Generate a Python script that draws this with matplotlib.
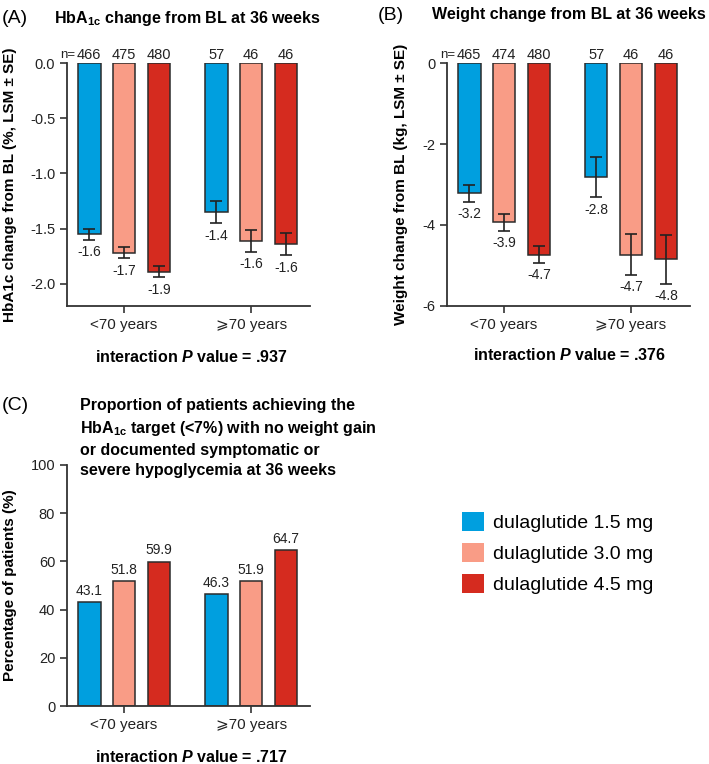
import matplotlib
matplotlib.use("Agg")
import matplotlib.pyplot as plt
from matplotlib.patches import Patch
import numpy as np

plt.rcParams['font.family'] = ['Liberation Sans', 'DejaVu Sans']
plt.rcParams['mathtext.fontset'] = 'custom'
plt.rcParams['mathtext.rm'] = 'Liberation Sans'
plt.rcParams['mathtext.bf'] = 'Liberation Sans:bold'
plt.rcParams['mathtext.it'] = 'Liberation Sans:italic:bold'

# ---------------- data ----------------
groups = ["<70 years", "⩾70 years"]
series = ["dulaglutide 1.5 mg", "dulaglutide 3.0 mg", "dulaglutide 4.5 mg"]
colors = ["#009FDF", "#F99C86", "#D52B1F"]

# Panel A: HbA1c change (LSM, SE) ; rows = series, cols = groups
hba1c_mean = [[-1.55, -1.35], [-1.72, -1.61], [-1.89, -1.64]]
hba1c_se = [[0.05, 0.10], [0.05, 0.10], [0.05, 0.10]]
hba1c_labels = [["-1.6", "-1.4"], ["-1.7", "-1.6"], ["-1.9", "-1.6"]]
hba1c_n = [["466", "57"], ["475", "46"], ["480", "46"]]

# Panel B: weight change
wt_mean = [[-3.22, -2.82], [-3.93, -4.73], [-4.73, -4.85]]
wt_se = [[0.21, 0.50], [0.21, 0.50], [0.20, 0.60]]
wt_labels = [["-3.2", "-2.8"], ["-3.9", "-4.7"], ["-4.7", "-4.8"]]
wt_n = [["465", "57"], ["474", "46"], ["480", "46"]]

# Panel C: composite endpoint %
pct = [[43.1, 46.3], [51.8, 51.9], [59.9, 64.7]]

p_values = [".937", ".376", ".717"]

# ---------------- layout ----------------
fig = plt.figure(figsize=(7.09, 7.64), dpi=100)
axA = fig.add_axes([0.0945, 0.5995, 0.343, 0.318])
axB = fig.add_axes([0.6305, 0.5995, 0.3425, 0.318])
axC = fig.add_axes([0.0945, 0.0759, 0.343, 0.3155])

offsets = [-0.274, 0.0, 0.276]
width = 0.178
xg = np.arange(len(groups))
edge = "#2b2b2b"


def style(ax):
    for s in ["top", "right"]:
        ax.spines[s].set_visible(False)
    for s in ["left", "bottom"]:
        ax.spines[s].set_color("#333333")
        ax.spines[s].set_linewidth(1.3)
    ax.tick_params(axis="both", direction="out", length=5, width=1.2,
                   color="#333333", labelsize=10.5, labelcolor="#222222")
    ax.set_xlim(-0.449, 1.465)
    ax.set_xticks(xg)
    ax.set_xticklabels(groups, fontsize=11)


def change_panel(ax, mean, se, labels, ns, ylim, yticks, ytlabels, ylabel):
    for i in range(3):
        x = xg + offsets[i]
        ax.bar(x, mean[i], width, color=colors[i], edgecolor=edge,
               linewidth=1.1, zorder=2)
        ax.errorbar(x, mean[i], yerr=se[i], fmt="none", ecolor="#222222",
                    elinewidth=1.2, capsize=4.3, capthick=1.2, zorder=3)
        for j in range(len(groups)):
            ax.annotate(labels[i][j], (x[j], mean[i][j] - se[i][j]),
                        xytext=(0, -4), textcoords="offset points",
                        ha="center", va="top", fontsize=10, color="#222222")
            ax.annotate(ns[i][j], (x[j], 0), xytext=(0, 0.5),
                        textcoords="offset points", ha="center", va="bottom",
                        fontsize=10.5, color="#222222", annotation_clip=False)
    ax.annotate("n=", (xg[0] + offsets[0] - width / 2, 0), xytext=(-2, 1.5),
                textcoords="offset points", ha="right", va="bottom",
                fontsize=9.5, color="#222222", annotation_clip=False)
    ax.set_ylim(*ylim)
    ax.set_yticks(yticks)
    ax.set_yticklabels(ytlabels)
    ax.set_ylabel(ylabel, fontsize=11, fontweight="bold")


style(axA)
change_panel(axA, hba1c_mean, hba1c_se, hba1c_labels, hba1c_n, (-2.2, 0),
             [0.0, -0.5, -1.0, -1.5, -2.0],
             ["0.0", "-0.5", "-1.0", "-1.5", "-2.0"],
             "HbA1c change from BL (%, LSM ± SE)")
axA.yaxis.set_label_coords(-0.205, 0.5)

style(axB)
change_panel(axB, wt_mean, wt_se, wt_labels, wt_n, (-6, 0),
             [0, -2, -4, -6], ["0", "-2", "-4", "-6"],
             "Weight change from BL (kg, LSM ± SE)")
axB.yaxis.set_label_coords(-0.16, 0.5)

style(axC)
for i in range(3):
    x = xg + offsets[i]
    axC.bar(x, pct[i], width, color=colors[i], edgecolor=edge, linewidth=1.1,
            zorder=2)
    for j in range(len(groups)):
        axC.annotate(f"{pct[i][j]:.1f}", (x[j], pct[i][j]), xytext=(0, 3),
                     textcoords="offset points", ha="center", va="bottom",
                     fontsize=10, color="#222222")
axC.set_ylim(0, 100)
axC.set_yticks([0, 20, 40, 60, 80, 100])
axC.set_ylabel("Percentage of patients (%)", fontsize=11, fontweight="bold")
axC.yaxis.set_label_coords(-0.205, 0.5)

# titles and panel letters
fig.text(0.003, 0.976, "(A)", fontsize=14, va="center", ha="left")
fig.text(0.265, 0.976, r"HbA$_{\mathbf{1c}}$ change from BL at 36 weeks",
         fontsize=11.5, fontweight="bold", va="center", ha="center")
fig.text(0.533, 0.980, "(B)", fontsize=14, va="center", ha="left")
fig.text(0.803, 0.981, "Weight change from BL at 36 weeks",
         fontsize=11.5, fontweight="bold", va="center", ha="center")
fig.text(0.003, 0.469, "(C)", fontsize=14, va="center", ha="left")
fig.text(0.113, 0.479,
         "Proportion of patients achieving the\n"
         r"HbA$_{\mathbf{1c}}$ target (<7%) with no weight gain" "\n"
         "or documented symptomatic or\n"
         "severe hypoglycemia at 36 weeks",
         fontsize=11.5, fontweight="bold", va="top", ha="left", linespacing=1.42)

# interaction p values
for xfig, p, yfig in [(0.270, p_values[0], 0.533), (0.803, p_values[1], 0.535),
                      (0.270, p_values[2], 0.009)]:
    fig.text(xfig, yfig, r"interaction $P$ value = " + p, fontsize=11.5,
             fontweight="bold", ha="center", va="center")

# legend
handles = [Patch(facecolor=c, edgecolor="none") for c in colors]
fig.legend(handles, series, loc="center left", bbox_to_anchor=(0.652, 0.2765),
           frameon=False, fontsize=14, handlelength=1.13, handleheight=1.13,
           handletextpad=0.45, labelspacing=0.55, borderaxespad=0,
           borderpad=0)

fig.savefig("out.png", dpi=100)
